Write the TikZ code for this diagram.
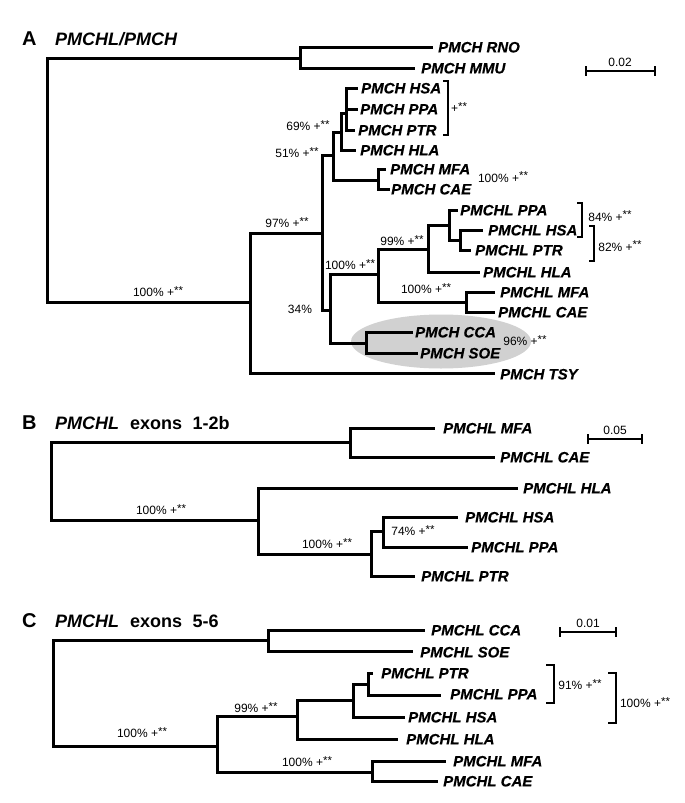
\documentclass[tikz,border=0pt]{standalone}
\usepackage{fontspec}
\setmainfont{Liberation Sans}
\newfontface\leafface{Liberation Sans Bold Italic}[FakeBold=0.4]
\newcommand\leaffont{\fontsize{15}{18}\selectfont\leafface}
\newcommand\bsfont{\fontsize{12}{14}\selectfont}
\newcommand\ttlfont{\fontsize{18}{20}\selectfont\bfseries}
\newcommand\bsx{+\raisebox{0.18em}{\fontsize{11.5}{12}\selectfont **}}
\begin{document}
\begin{tikzpicture}[x=1pt,y=-1pt,
  br/.style={line width=3pt,line join=miter},
  leaf/.style={anchor=base west,inner sep=0pt,font=\leaffont},
  bsl/.style={anchor=base,inner sep=0pt,font=\bsfont},
  brk/.style={line width=1.2pt},
  sbar/.style={line width=1.4pt},
  ttl/.style={anchor=base west,inner sep=0pt,font=\ttlfont},
  big/.style={anchor=base west,inner sep=0pt,font=\fontsize{20}{22}\selectfont\bfseries},
]
\useasboundingbox[fill=white] (0,0) rectangle (685,803);

% ================= Panel A =================
\fill[black!18] (441,341.5) ellipse [x radius=90pt,y radius=27pt];
\node[big] (tA) at (22,45) {A};
\node[ttl,font=\ttlfont\itshape] (tA2) at (55,45) {PMCHL/PMCH};

\coordinate (rA) at (47,180);
\coordinate (a1) at (300,58);
\coordinate (rno) at (433,47);
\coordinate (mmu) at (415,68);
\coordinate (a2) at (250,302);
\coordinate (tsy) at (495,373);
\coordinate (a3) at (322,233);
\coordinate (a4) at (333,155);
\coordinate (a5) at (341,132);
\coordinate (a5b) at (346,113);
\coordinate (hsa) at (358,88);
\coordinate (ppa) at (358,109);
\coordinate (ptr) at (355,130);
\coordinate (hla) at (356,150);
\coordinate (a6) at (378,180);
\coordinate (mfa) at (386,169);
\coordinate (cae) at (390,189);
\coordinate (a7) at (330,310);
\coordinate (a8) at (378,274);
\coordinate (a9) at (428,249);
\coordinate (a10) at (449,225);
\coordinate (lppa) at (458,210);
\coordinate (a10b) at (460,240);
\coordinate (lhsa) at (483,230);
\coordinate (lptr) at (471,250);
\coordinate (lhla) at (480,272);
\coordinate (a11) at (466,302);
\coordinate (lmfa) at (495,292);
\coordinate (lcae) at (495,312);
\coordinate (a12) at (366,343);
\coordinate (cca) at (413,332);
\coordinate (soe) at (418,353);

\draw[br] (rA) |- (a1) (rA) |- (a2)
  (a1) |- (rno) (a1) |- (mmu)
  (a2) |- (a3) (a2) |- (tsy)
  (a3) |- (a4) (a3) |- (a7)
  (a4) |- (a5) (a4) |- (a6)
  (a5) |- (a5b) (a5) |- (hla)
  (a5b) |- (hsa) (a5b) |- (ppa) (a5b) |- (ptr)
  (a6) |- (mfa) (a6) |- (cae)
  (a7) |- (a8) (a7) |- (a12)
  (a8) |- (a9) (a8) |- (a11)
  (a9) |- (a10) (a9) |- (lhla)
  (a10) |- (lppa) (a10) |- (a10b)
  (a10b) |- (lhsa) (a10b) |- (lptr)
  (a11) |- (lmfa) (a11) |- (lcae)
  (a12) |- (cca) (a12) |- (soe);

\node[leaf] (Lrno) at (438,52.4) {PMCH RNO};
\node[leaf] (Lmmu) at (421,73.4) {PMCH MMU};
\node[leaf] (Lhsa) at (361,93.4) {PMCH HSA};
\node[leaf] (Lppa) at (360,114.4) {PMCH PPA};
\node[leaf] (Lptr) at (358,135.4) {PMCH PTR};
\node[leaf] (Lhla) at (360,155.4) {PMCH HLA};
\node[leaf] (Lmfa) at (390,174.4) {PMCH MFA};
\node[leaf] (Lcae) at (391,194.4) {PMCH CAE};
\node[leaf] (LLppa) at (460,215.4) {PMCHL PPA};
\node[leaf] (LLhsa) at (488,235.4) {PMCHL HSA};
\node[leaf] (LLptr) at (475,255.4) {PMCHL PTR};
\node[leaf] (LLhla) at (483,277.4) {PMCHL HLA};
\node[leaf] (LLmfa) at (500,297.4) {PMCHL MFA};
\node[leaf] (LLcae) at (498,317.4) {PMCHL CAE};
\node[leaf] (Lcca) at (415,337.4) {PMCH CCA};
\node[leaf] (Lsoe) at (420,358.4) {PMCH SOE};
\node[leaf] (Ltsy) at (500,379.4) {PMCH TSY};

\node[bsl] (bA1) at (158,296.3) {100\% \bsx};
\node[bsl] (bA2) at (287,227.3) {97\% \bsx};
\node[bsl] (bA3) at (297,157.3) {51\% \bsx};
\node[bsl] (bA4) at (308,130.3) {69\% \bsx};
\node[bsl] (bA5) at (300,313.3) {34\%};
\node[bsl] (bA6) at (350,269.3) {100\% \bsx};
\node[bsl] (bA7) at (402,245.3) {99\% \bsx};
\node[bsl] (bA8) at (503,182) {100\% \bsx};
\node[bsl] (bA9) at (459,112.3) {\bsx};
\node[bsl] (bA10) at (426,293.3) {100\% \bsx};
\node[bsl] (bA11) at (610,221) {84\% \bsx};
\node[bsl] (bA12) at (620,251) {82\% \bsx};
\node[bsl] (bA13) at (525,345.3) {96\% \bsx};

\draw[brk] (443,81) -- (448,81) -- (448,135) -- (443,135);
\draw[brk] (577,203) -- (582,203) -- (582,237) -- (577,237);
\draw[brk] (589,226) -- (594,226) -- (594,261) -- (589,261);

\draw[sbar] (586,71) -- (655,71) (586,66) -- (586,76) (655,66) -- (655,76);
\node[bsl] (sA) at (620,66) {0.02};

% ================= Panel B =================
\node[big] (tB) at (22,429) {B};
\node[ttl,font=\ttlfont\itshape] (tB2) at (55,429) {PMCHL};
\node[ttl] (tB3) at (130,429) {exons\hspace{0.3em} 1-2b};

\coordinate (rB) at (51,480);
\coordinate (b1) at (350,442);
\coordinate (bmfa) at (435,428);
\coordinate (bcae) at (495,457);
\coordinate (b2) at (258,520);
\coordinate (bhla) at (518,488);
\coordinate (b3) at (371,554);
\coordinate (b4) at (383,531);
\coordinate (bhsa) at (458,517);
\coordinate (bppa) at (468,547);
\coordinate (bptr) at (415,576);

\draw[br] (rB) |- (b1) (rB) |- (b2)
  (b1) |- (bmfa) (b1) |- (bcae)
  (b2) |- (bhla) (b2) |- (b3)
  (b3) |- (b4) (b3) |- (bptr)
  (b4) |- (bhsa) (b4) |- (bppa);

\node[leaf] (LBmfa) at (443,433.4) {PMCHL MFA};
\node[leaf] (LBcae) at (500,462.4) {PMCHL CAE};
\node[leaf] (LBhla) at (523,493.4) {PMCHL HLA};
\node[leaf] (LBhsa) at (465,522.4) {PMCHL HSA};
\node[leaf] (LBppa) at (471,552.4) {PMCHL PPA};
\node[leaf] (LBptr) at (421,581.4) {PMCHL PTR};

\node[bsl] (bB1) at (161,514.3) {100\% \bsx};
\node[bsl] (bB2) at (327,548.3) {100\% \bsx};
\node[bsl] (bB3) at (413,535.3) {74\% \bsx};

\draw[sbar] (588,439) -- (642,439) (588,434) -- (588,444) (642,434) -- (642,444);
\node[bsl] (sB) at (615,434) {0.05};

% ================= Panel C =================
\node[big] (tC) at (22,627) {C};
\node[ttl,font=\ttlfont\itshape] (tC2) at (55,627) {PMCHL};
\node[ttl] (tC3) at (130,627) {exons\hspace{0.3em} 5-6};

\coordinate (rC) at (53,693);
\coordinate (c1) at (268,640);
\coordinate (ccca) at (425,630);
\coordinate (csoe) at (413,651);
\coordinate (c2) at (217,746);
\coordinate (c3) at (297,716);
\coordinate (c4) at (353,700);
\coordinate (c5) at (368,684);
\coordinate (cptr) at (373,673);
\coordinate (cppa) at (441,695);
\coordinate (chsa) at (405,717);
\coordinate (chla) at (398,739);
\coordinate (c6) at (372,772);
\coordinate (cmfa) at (446,761);
\coordinate (ccae) at (438,781);

\draw[br] (rC) |- (c1) (rC) |- (c2)
  (c1) |- (ccca) (c1) |- (csoe)
  (c2) |- (c3) (c2) |- (c6)
  (c3) |- (c4) (c3) |- (chla)
  (c4) |- (c5) (c4) |- (chsa)
  (c5) |- (cptr) (c5) |- (cppa)
  (c6) |- (cmfa) (c6) |- (ccae);

\node[leaf] (LCcca) at (431,635.4) {PMCHL CCA};
\node[leaf] (LCsoe) at (420,657.4) {PMCHL SOE};
\node[leaf] (LCptr) at (381,678.4) {PMCHL PTR};
\node[leaf] (LCppa) at (450,699.4) {PMCHL PPA};
\node[leaf] (LChsa) at (408,722.4) {PMCHL HSA};
\node[leaf] (LChla) at (406,744.4) {PMCHL HLA};
\node[leaf] (LCmfa) at (453,766.4) {PMCHL MFA};
\node[leaf] (LCcae) at (443,786.4) {PMCHL CAE};

\node[bsl] (bC1) at (142,737.3) {100\% \bsx};
\node[bsl] (bC2) at (256,712.3) {99\% \bsx};
\node[bsl] (bC3) at (307,766.3) {100\% \bsx};
\node[bsl] (bC4) at (580,689.3) {91\% \bsx};
\node[bsl] (bC5) at (645,707.3) {100\% \bsx};

\draw[brk] (546,665) -- (554,665) -- (554,703) -- (546,703);
\draw[brk] (608,673) -- (616,673) -- (616,723) -- (608,723);

\draw[sbar] (560,632) -- (616,632) (560,627) -- (560,637) (616,627) -- (616,637);
\node[bsl] (sC) at (588,627) {0.01};
\end{tikzpicture}
\end{document}
